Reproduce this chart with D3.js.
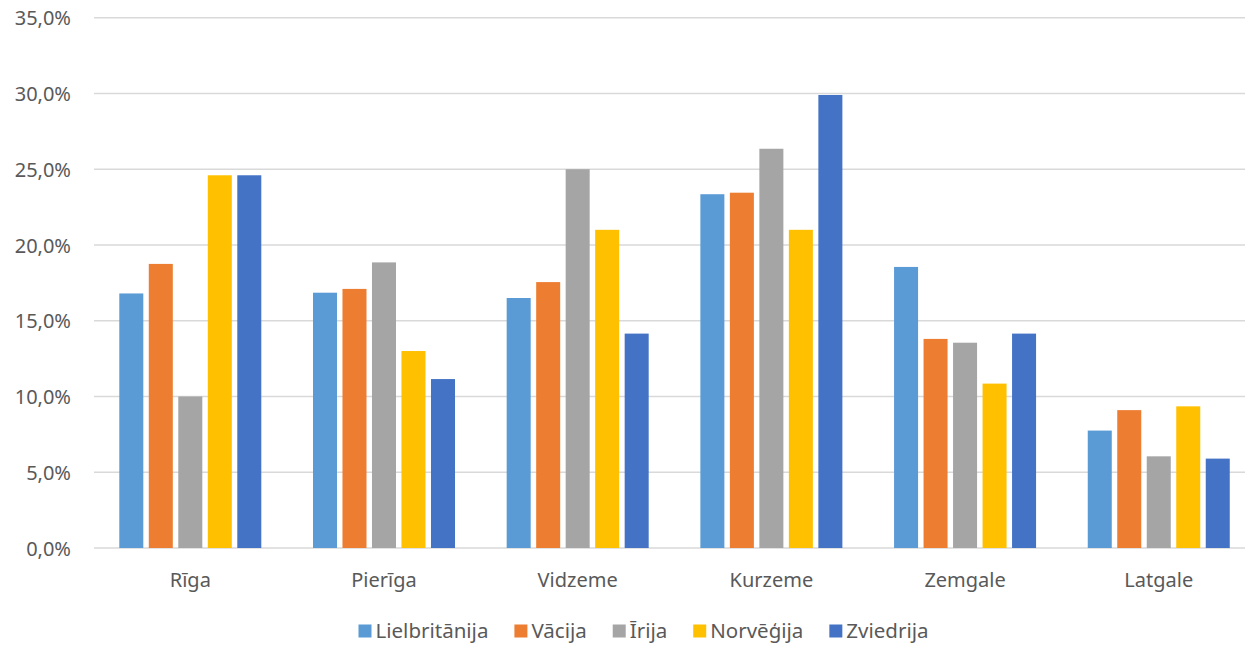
<!DOCTYPE html>
<html>
<head>
<meta charset="utf-8">
<script src="https://cdn.jsdelivr.net/npm/d3@7"></script>
<style>
  html, body { margin: 0; padding: 0; background: #fff; }
  svg { display: block; }
  text { font-family: "Noto Sans", "Open Sans", sans-serif; fill: #595959; }
</style>
</head>
<body>
<svg id="chart" width="1245" height="645"></svg>
<script>
const categories = ["Rīga", "Pierīga", "Vidzeme", "Kurzeme", "Zemgale", "Latgale"];
const seriesNames = ["Lielbritānija", "Vācija", "Īrija", "Norvēģija", "Zviedrija"];
const seriesColors = ["#5b9bd5", "#ed7d31", "#a5a5a5", "#ffc000", "#4472c4"];
const lielbritanija = [16.8, 16.85, 16.5, 23.35, 18.55, 7.75];
const vacija        = [18.75, 17.1, 17.55, 23.45, 13.8, 9.1];
const irija         = [10.0, 18.85, 25.0, 26.35, 13.55, 6.05];
const norvegija     = [24.6, 13.0, 21.0, 21.0, 10.85, 9.35];
const zviedrija     = [24.6, 11.15, 14.15, 29.9, 14.15, 5.9];
const yTicks = [0, 5, 10, 15, 20, 25, 30, 35];

const seriesValues = [lielbritanija, vacija, irija, norvegija, zviedrija];

const svg = d3.select("#chart");
const W = 1245;

const x0 = d3.scaleBand().domain(categories).range([93.45, 1255.6])
  .paddingInner(0.2385).paddingOuter(0.11925);
const x1 = d3.scaleBand().domain(seriesNames).range([0, x0.bandwidth()])
  .paddingInner(0.186).paddingOuter(0.093);
const y = d3.scaleLinear().domain([0, 35]).range([548, 17.7]);

// gridlines
svg.append("g").selectAll("line").data(yTicks).join("line")
  .attr("x1", 94).attr("x2", W)
  .attr("y1", d => y(d)).attr("y2", d => y(d))
  .attr("stroke", "#d9d9d9").attr("stroke-width", 1.5);

// y axis labels
const yAxis = d3.axisLeft(y).tickValues(yTicks).tickSize(0).tickPadding(0)
  .tickFormat(d => d.toFixed(1).replace(".", ",") + "%");
const ya = svg.append("g").attr("transform", "translate(71,0)").call(yAxis);
ya.select(".domain").remove();
ya.selectAll("text").attr("font-size", 20).attr("font-family", "Noto Sans")
  .attr("fill", "#595959").attr("dy", "0.36em");

// bars
const groups = svg.append("g").selectAll("g").data(categories).join("g")
  .attr("transform", d => `translate(${x0(d)},0)`);
groups.selectAll("rect")
  .data((c, ci) => seriesNames.map((s, si) => ({ s, si, v: seriesValues[si][ci] })))
  .join("rect")
  .attr("x", d => x1(d.s))
  .attr("width", x1.bandwidth())
  .attr("y", d => y(d.v))
  .attr("height", d => y(0) - y(d.v))
  .attr("fill", d => seriesColors[d.si]);

// x axis labels
const xAxis = d3.axisBottom(x0).tickSize(0).tickPadding(0);
const xa = svg.append("g").attr("transform", "translate(0,573)").call(xAxis);
xa.select(".domain").remove();
xa.selectAll("text").attr("font-size", 20).attr("font-family", "Noto Sans")
  .attr("fill", "#595959").attr("dy", "0.71em");

// legend
const legend = svg.append("g");
const items = legend.selectAll("g").data(seriesNames).join("g");
items.append("rect").attr("width", 13).attr("height", 13).attr("y", -13.5)
  .attr("fill", (d, i) => seriesColors[i]);
items.append("text").attr("x", 17).attr("y", 0).attr("font-size", 20.5)
  .text(d => d);
let widths = [];
items.each(function () {
  widths.push(17 + this.querySelector("text").getComputedTextLength());
});
const gap = 26;
const total = d3.sum(widths) + gap * (widths.length - 1);
let cx = 643.5 - total / 2;
items.attr("transform", (d, i) => {
  const t = `translate(${cx},638)`;
  cx += widths[i] + gap;
  return t;
});
</script>
</body>
</html>
